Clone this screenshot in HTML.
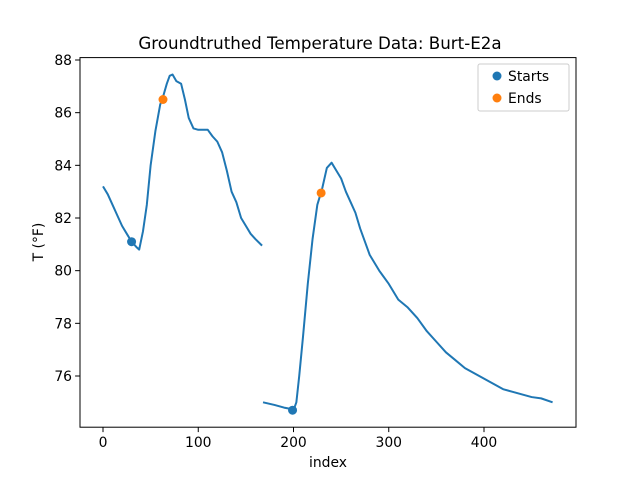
<!DOCTYPE html>
<html><head><meta charset="utf-8"><style>
body{margin:0;background:#fff}
svg{display:block;font-family:"DejaVu Sans","Liberation Sans",sans-serif}
</style></head><body>
<svg id="c" width="640" height="480"></svg>
<script>
const seg1X=[0,5,10,15,20,25,30,35,38,42,46,50,55,60,63,67,70,73,77,82,86,90,95,100,110,115,120,125,130,135,140,145,150,155,160,167];
const seg1Y=[83.2,82.9,82.5,82.1,81.7,81.4,81.1,80.9,80.8,81.5,82.5,84.0,85.3,86.3,86.6,87.1,87.4,87.45,87.2,87.1,86.5,85.8,85.4,85.35,85.35,85.1,84.9,84.5,83.8,83.0,82.6,82.0,81.7,81.4,81.2,80.95];
const seg2X=[168,180,190,197,200,203,206,210,215,220,225,230,235,240,245,250,255,260,265,270,275,280,290,300,310,320,330,340,350,360,370,380,390,400,410,420,430,440,450,460,472];
const seg2Y=[75.0,74.9,74.8,74.75,74.7,75.0,76.0,77.5,79.5,81.2,82.5,83.1,83.9,84.1,83.8,83.5,83.0,82.6,82.2,81.6,81.1,80.6,80.0,79.5,78.9,78.6,78.2,77.7,77.3,76.9,76.6,76.3,76.1,75.9,75.7,75.5,75.4,75.3,75.2,75.15,75.0];
const startX=[30,199], startY=[81.1,74.7];
const endX=[63,229], endY=[86.5,82.95];
const xTicks=[0,100,200,300,400];
const yTicks=[76,78,80,82,84,86,88];
const L=80,R=576,T=57.6,B=427.2;
const sx=v=>103+v*0.9525;
const sy=v=>60+(88-v)*26.333;
const svg=document.getElementById('c');
const NS='http://www.w3.org/2000/svg';
function mk(t,a,p){const e=document.createElementNS(NS,t);for(const k in a)e.setAttribute(k,a[k]);(p||svg).appendChild(e);return e;}
let e;
e=mk('text',{x:320,y:49,'text-anchor':'middle','font-size':16.7});e.textContent='Groundtruthed Temperature Data: Burt-E2a';


function line(xs,ys,name){
 e=mk('polyline',{points:xs.map((x,i)=>sx(x)+','+sy(ys[i])).join(' '),fill:'none',stroke:'#1f77b4','stroke-width':2,'stroke-linejoin':'round'});
 
 
}
line(seg1X,seg1Y,'temperature-line-1');
line(seg2X,seg2Y,'temperature-line-2');
startX.forEach((x,i)=>{e=mk('circle',{cx:sx(x),cy:sy(startY[i]),r:4.5,fill:'#1f77b4'});
 
 });
endX.forEach((x,i)=>{e=mk('circle',{cx:sx(x),cy:sy(endY[i]),r:4.5,fill:'#ff7f0e'});
 
 });
e=mk('rect',{x:L,y:T,width:R-L,height:B-T,fill:'none',stroke:'#000','stroke-width':1});


xTicks.forEach(v=>{const x=sx(v);mk('line',{x1:x,x2:x,y1:B,y2:B+4.9,stroke:'#000','stroke-width':1});
 e=mk('text',{x:x,y:B+20,'text-anchor':'middle','font-size':13.9});e.textContent=v;
 
 });
yTicks.forEach(v=>{const y=sy(v);mk('line',{x1:L,x2:L-4.9,y1:y,y2:y,stroke:'#000','stroke-width':1});
 e=mk('text',{x:L-8,y:y+5,'text-anchor':'end','font-size':13.9});e.textContent=v;
 
 });
e=mk('text',{x:328,y:467,'text-anchor':'middle','font-size':13.9});e.textContent='index';


e=mk('text',{x:43,y:242,'text-anchor':'middle','font-size':13.9,transform:'rotate(-90 43 242)'});e.textContent='T (°F)';


const g=mk('g',{});


mk('rect',{x:478,y:64,width:91,height:47,rx:2,fill:'#fff',stroke:'#ccc','stroke-width':1},g);
mk('circle',{cx:497,cy:76,r:4.5,fill:'#1f77b4'},g);
mk('circle',{cx:497,cy:98,r:4.5,fill:'#ff7f0e'},g);
e=mk('text',{x:508,y:81,'font-size':13.9},g);e.textContent='Starts';


e=mk('text',{x:508,y:103,'font-size':13.9},g);e.textContent='Ends';


</script>
</body></html>
